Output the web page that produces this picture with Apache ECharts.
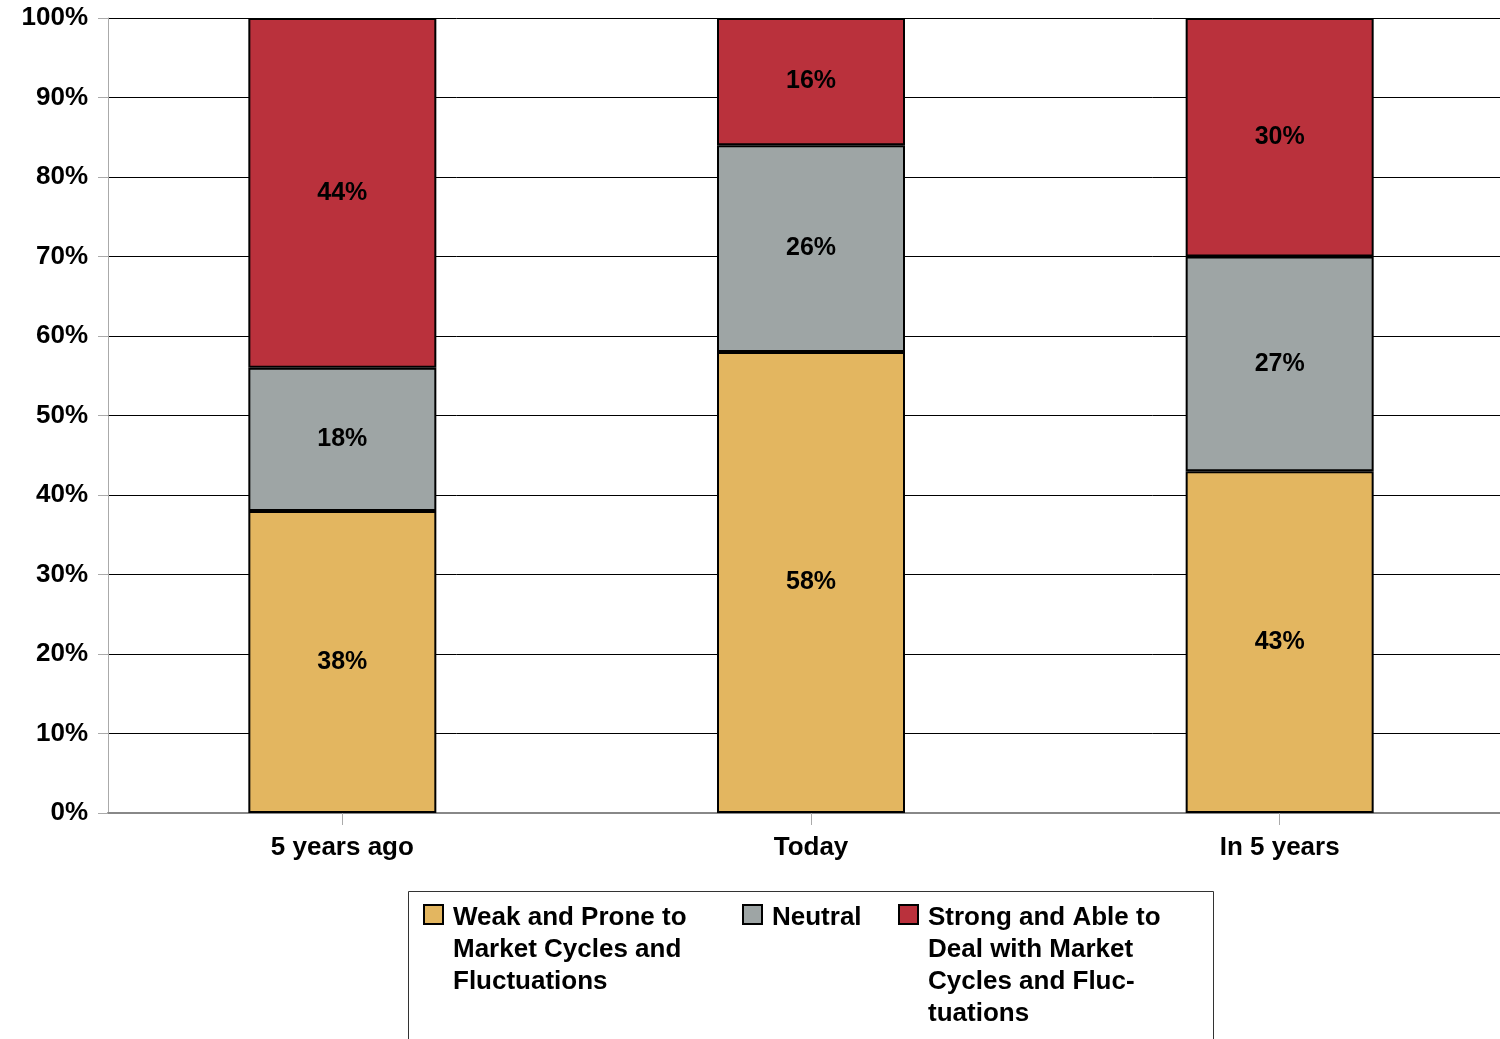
<!DOCTYPE html>
<html>
<head>
<meta charset="utf-8">
<script src="https://cdn.jsdelivr.net/npm/echarts@6/dist/echarts.min.js"></script>
<style>
  html, body { margin: 0; padding: 0; background: #fff; }
  #chart { width: 1500px; height: 1039px; }
</style>
</head>
<body>
<div id="chart"></div>
<script>
var categories = ["5 years ago", "Today", "In 5 years"];
var seriesNames = [
  "Weak and Prone to Market Cycles and Fluctuations",
  "Neutral",
  "Strong and Able to Deal with Market Cycles and Fluctuations"
];
// legend text as wrapped in the picture
var legendLines = [
  "Weak and Prone to\nMarket Cycles and\nFluctuations",
  "Neutral",
  "Strong and Able to\nDeal with Market\nCycles and Fluc-\ntuations"
];
var weak = [38, 58, 43];
var neutral = [18, 26, 27];
var strong = [44, 16, 30];
var colors = ["#E3B660", "#9EA5A5", "#BA313C"];

var font = "Liberation Sans, Arial, sans-serif";
var chart = echarts.init(document.getElementById("chart"));

function makeSeries(name, data, color) {
  return {
    name: name,
    type: "bar",
    stack: "total",
    barWidth: 188,
    data: data,
    itemStyle: { color: color, borderColor: "#000", borderWidth: 2 },
    label: {
      show: true,
      position: "inside",
      formatter: "{c}%",
      color: "#000",
      fontFamily: font,
      fontWeight: "bold",
      fontSize: 25
    }
  };
}

// legend drawn by hand so the wrapped text lines up like the picture
var legendX = [424, 743, 899];
var graphics = [{
  type: "rect",
  shape: { x: 408.5, y: 891.5, width: 805, height: 170 },
  style: { fill: "none", stroke: "#333", lineWidth: 1 }
}];
for (var i = 0; i < seriesNames.length; i++) {
  graphics.push({
    type: "rect",
    shape: { x: legendX[i], y: 905, width: 19, height: 19 },
    style: { fill: colors[i], stroke: "#000", lineWidth: 2 }
  });
  graphics.push({
    type: "text",
    x: legendX[i] + 29,
    y: 902,
    style: {
      text: legendLines[i],
      fill: "#000",
      font: "bold 26px " + font,
      lineHeight: 32
    }
  });
}

var option = {
  animation: false,
  backgroundColor: "#fff",
  color: colors,
  grid: { left: 108, right: -14, top: 18, bottom: 226, outerBoundsMode: "none" },
  xAxis: {
    type: "category",
    data: categories,
    axisLine: { lineStyle: { color: "#888", width: 2 } },
    axisTick: { show: true, alignWithLabel: true, length: 12, lineStyle: { color: "#aaa" } },
    axisLabel: {
      color: "#000",
      fontFamily: font,
      fontWeight: "bold",
      fontSize: 26,
      margin: 22
    }
  },
  yAxis: {
    type: "value",
    min: 0,
    max: 100,
    interval: 10,
    axisLine: { show: true, lineStyle: { color: "#aaa", width: 1 } },
    axisTick: { show: true, length: 10, lineStyle: { color: "#aaa" } },
    splitLine: { show: true, lineStyle: { color: "#000", width: 1 } },
    axisLabel: {
      formatter: "{value}%",
      color: "#000",
      fontFamily: font,
      fontWeight: "bold",
      fontSize: 26,
      margin: 20
    }
  },
  graphic: graphics,
  series: [
    makeSeries(seriesNames[0], weak, colors[0]),
    makeSeries(seriesNames[1], neutral, colors[1]),
    makeSeries(seriesNames[2], strong, colors[2])
  ]
};

chart.setOption(option);
</script>
</body>
</html>
